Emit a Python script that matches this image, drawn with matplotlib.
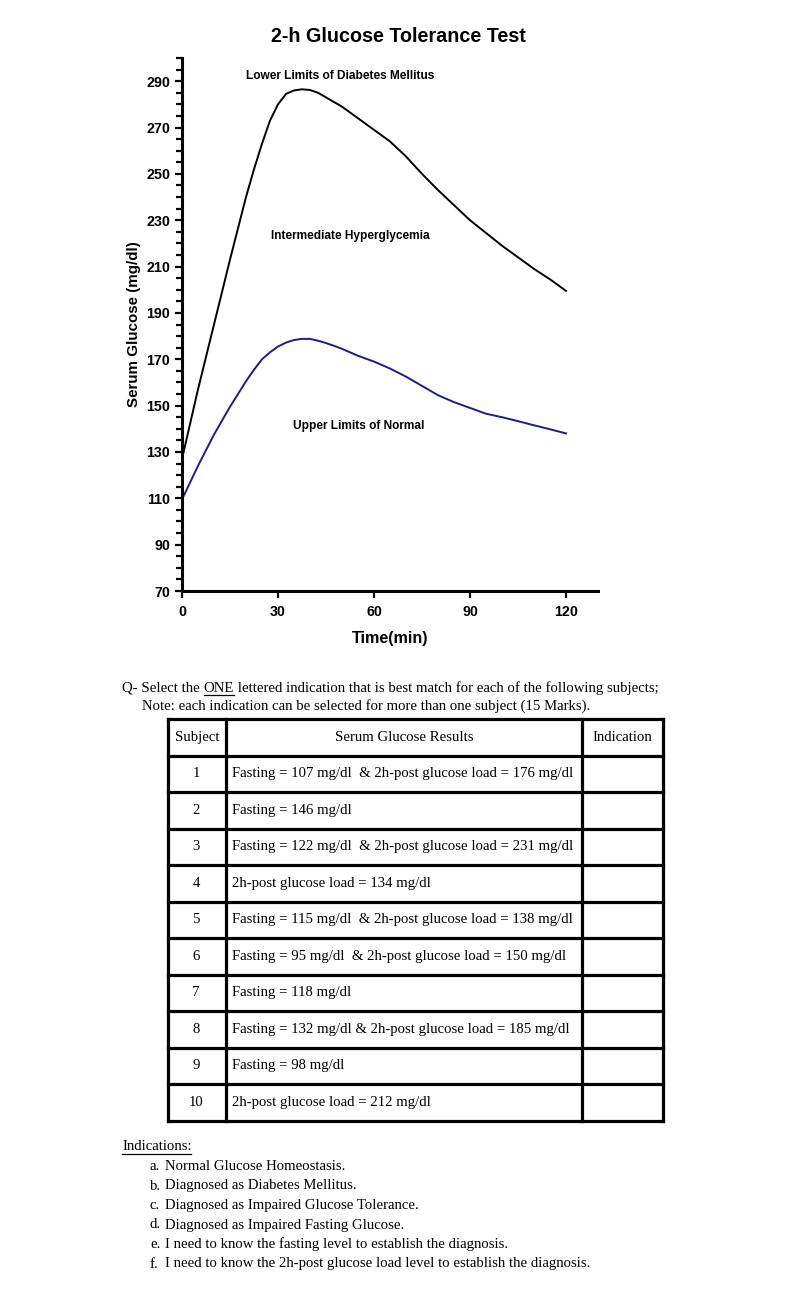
import matplotlib
matplotlib.use('Agg')
from matplotlib import pyplot as plt
from matplotlib.ticker import MultipleLocator, FixedLocator
import numpy as np

# curve readings (minutes, mg/dl)
diabetes_time = [0, 5, 10, 15, 20, 22.5, 25, 27.5, 30, 32.5, 35, 37.5, 40, 42.5, 45, 47.5, 50,
                 55, 60, 65, 70, 75, 80, 85, 90, 95, 100, 105, 110, 115, 120]
diabetes_lower = [127, 157, 185, 213, 240, 252, 263, 273, 280, 284.5, 286, 286.5, 286.2, 285, 283, 281, 279,
                  274, 269, 264, 257.5, 250, 243, 236.5, 230, 224.5, 219, 214, 209, 204.5, 199.5]
normal_time = [0, 5, 10, 15, 20, 22.5, 25, 27.5, 30, 32.5, 35, 37.5, 40, 42.5, 45, 47.5, 50,
               55, 60, 65, 70, 75, 80, 85, 90, 95, 100, 105, 110, 115, 120]
normal_upper = [109.5, 124, 137.5, 149.5, 160.5, 165.5, 170, 173, 175.5, 177.2, 178.3, 178.8, 178.8, 178, 177,
                175.8, 174.5, 171.5, 169, 166, 162.5, 158.5, 154.5, 151.5, 149, 146.5, 145, 143.3, 141.5, 139.8, 138]

region_labels = ['Lower Limits of Diabetes Mellitus', 'Intermediate Hyperglycemia', 'Upper Limits of Normal']
region_label_pos = [(49.5, 292.3), (52.5, 223.3), (55.3, 141.0)]

table_header = ['Subject', 'Serum Glucose Results', 'Indication']
subjects = ['1', '2', '3', '4', '5', '6', '7', '8', '9', '10']
results = [
    'Fasting = 107 mg/dl  & 2h-post glucose load = 176 mg/dl',
    'Fasting = 146 mg/dl',
    'Fasting = 122 mg/dl  & 2h-post glucose load = 231 mg/dl',
    '2h-post glucose load = 134 mg/dl',
    'Fasting = 115 mg/dl  & 2h-post glucose load = 138 mg/dl',
    'Fasting = 95 mg/dl  & 2h-post glucose load = 150 mg/dl',
    'Fasting = 118 mg/dl',
    'Fasting = 132 mg/dl & 2h-post glucose load = 185 mg/dl',
    'Fasting = 98 mg/dl',
    '2h-post glucose load = 212 mg/dl',
]
letters = ['a.', 'b.', 'c.', 'd.', 'e.', 'f.']
indications = [
    'Normal Glucose Homeostasis.',
    'Diagnosed as Diabetes Mellitus.',
    'Diagnosed as Impaired Glucose Tolerance.',
    'Diagnosed as Impaired Fasting Glucose.',
    'I need to know the fasting level to establish the diagnosis.',
    'I need to know the 2h-post glucose load level to establish the diagnosis.',
]

W, H = 810, 1296
fig = plt.figure(figsize=(W / 100, H / 100), dpi=100)
fig.patch.set_facecolor('white')

sans = 'Liberation Sans'
serif = 'Liberation Serif'

# ---- chart ----
ax = fig.add_axes([182 / W, 1 - 591 / H, (598 - 182) / W, (591 - 58) / H])
ax.plot(diabetes_time, diabetes_lower, color='black', lw=1.4)
ax.plot(normal_time, normal_upper, color='#1c1c8a', lw=1.4)
for lab, (tx, ty) in zip(region_labels, region_label_pos):
    ax.text(tx, ty, lab, ha='center', va='center', fontsize=8.6, fontweight='bold', family=sans)

ax.set_xlim(0, 130)
ax.set_ylim(70, 300)
ax.spines['top'].set_visible(False)
ax.spines['right'].set_visible(False)
ax.spines['left'].set_linewidth(2.2)
ax.spines['bottom'].set_linewidth(2.2)
ax.xaxis.set_major_locator(FixedLocator([0, 30, 60, 90, 120]))
ax.yaxis.set_major_locator(FixedLocator(list(range(70, 291, 20))))
ax.yaxis.set_minor_locator(MultipleLocator(5))
ax.tick_params(axis='both', which='major', length=5, width=1.6, labelsize=10.3, pad=3.5)
ax.tick_params(axis='x', which='major', pad=5)
ax.tick_params(axis='y', which='minor', length=4, width=1.6)
for t in ax.get_xticklabels() + ax.get_yticklabels():
    t.set_fontweight('bold')
    t.set_family(sans)
ax.set_xlabel('Time(min)', fontsize=11.6, fontweight='bold', family=sans, labelpad=9)
ax.set_ylabel('Serum Glucose (mg/dl)', fontsize=10.9, fontweight='bold', family=sans, labelpad=4)
ax.set_title('2-h Glucose Tolerance Test', fontsize=14.2, fontweight='bold', family=sans, pad=11.5, x=0.52)

# ---- question / table on a page overlay ----
page = fig.add_axes([0, 0, 1, 1])
page.set_xlim(0, W)
page.set_ylim(H, 0)
page.axis('off')
page.patch.set_alpha(0)

fs = 10.6
q1 = page.text(122, 688, 'Q- Select the ', fontsize=fs, family=serif, va='center')
q_one = page.text(0, 688, 'ONE', fontsize=fs, family=serif, va='center')
q_rest = page.text(0, 688, ' lettered indication that is best match for each of the following subjects;',
                   fontsize=fs, family=serif, va='center')
page.text(142, 706.5, 'Note: each indication can be selected for more than one subject (15 Marks).',
          fontsize=fs, family=serif, va='center')

col_x = [168, 226, 582, 663]
row_top = 719
row_h = 36.5
n_rows = len(subjects) + 1
row_y = [row_top + i * row_h for i in range(n_rows + 1)]
for x in col_x:
    page.plot([x, x], [row_y[0], row_y[-1]], color='black', lw=2.3, solid_capstyle='projecting')
for y in row_y:
    page.plot([col_x[0], col_x[-1]], [y, y], color='black', lw=2.3, solid_capstyle='projecting')

hy = row_y[0] + row_h / 2
page.text((col_x[0] + col_x[1]) / 2, hy, table_header[0], fontsize=fs, family=serif, ha='center', va='center')
page.text((col_x[1] + col_x[2]) / 2, hy, table_header[1], fontsize=fs, family=serif, ha='center', va='center')
page.text((col_x[2] + col_x[3]) / 2, hy, table_header[2], fontsize=fs, family=serif, ha='center', va='center')
for i, (s, r) in enumerate(zip(subjects, results)):
    cy = row_y[i + 1] + row_h / 2
    page.text((col_x[0] + col_x[1]) / 2 - 1, cy, s, fontsize=fs, family=serif, ha='center', va='center')
    page.text(col_x[1] + 6, cy, r, fontsize=fs, family=serif, ha='left', va='center')

ind_title = page.text(122, 1147, 'Indications:', fontsize=fs, family=serif, va='center')
for i, (l, t) in enumerate(zip(letters, indications)):
    y = 1166.5 + i * 19.5
    page.text(150, y, l, fontsize=fs, family=serif, va='center')
    page.text(165, y, t, fontsize=fs, family=serif, va='center')

# place inline pieces and underlines using rendered extents
fig.canvas.draw()
r = fig.canvas.get_renderer()
inv = page.transData.inverted()


def px_extent(txt):
    bb = txt.get_window_extent(renderer=r)
    (x0, y0), (x1, y1) = inv.transform([[bb.x0, bb.y0], [bb.x1, bb.y1]])
    return x0, x1


x0, x1 = px_extent(q1)
q_one.set_x(x1)
fig.canvas.draw()
o0, o1 = px_extent(q_one)
q_rest.set_x(o1)
page.plot([o0, o1], [695, 695], color='black', lw=0.9)
i0, i1 = px_extent(ind_title)
page.plot([i0, i1 - 1], [1154, 1154], color='black', lw=0.9)

fig.savefig('out.png', dpi=100, facecolor='white')
